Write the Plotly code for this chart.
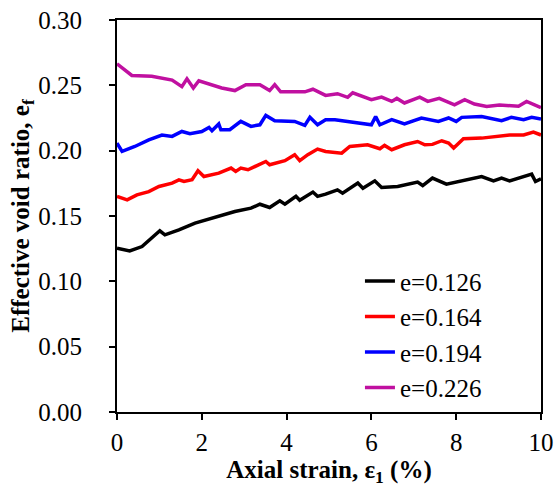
import plotly.graph_objects as go

# e = 0.126 (black)
x_126 = [0, 0.3, 0.59, 0.82, 1.01, 1.13, 1.46, 1.84, 2.4, 2.78, 3.16, 3.37, 3.6, 3.84, 3.96, 4.22, 4.31, 4.62, 4.73, 4.92,
         5.2, 5.32, 5.68, 5.8, 6.08, 6.24, 6.62, 7.09, 7.21, 7.44, 7.77, 8.13, 8.6, 8.88, 9.07, 9.26, 9.54, 9.78, 9.87, 10.0]
y_126 = [0.1254, 0.1233, 0.1266, 0.133, 0.1387, 0.1356, 0.1394, 0.1445, 0.1496, 0.1534, 0.156, 0.159, 0.1565, 0.1616, 0.159, 0.165, 0.162, 0.1683, 0.165, 0.1667,
         0.170, 0.1675, 0.1752, 0.1713, 0.1769, 0.1718, 0.1726, 0.1759, 0.1733, 0.179, 0.1744, 0.1769, 0.1802, 0.1769, 0.179, 0.1769, 0.1795, 0.182, 0.1764, 0.1785]

# e = 0.164 (red)
x_164 = [0, 0.24, 0.47, 0.75, 0.99, 1.3, 1.46, 1.58, 1.77, 1.91, 2.05, 2.4, 2.69, 2.8, 2.92, 3.09, 3.51, 3.6, 3.96, 4.19, 4.31, 4.5, 4.73, 4.92,
         5.3, 5.49, 5.91, 6.2, 6.31, 6.48, 6.78, 7.09, 7.26, 7.44, 7.66, 7.82, 7.94, 8.17, 8.6, 9.0, 9.26, 9.59, 9.82, 10.0]
y_164 = [0.165, 0.1624, 0.1662, 0.1687, 0.1726, 0.1752, 0.1777, 0.1764, 0.1777, 0.1846, 0.1802, 0.1828, 0.1867, 0.1841, 0.1867, 0.1854, 0.1917, 0.1892, 0.1923, 0.1969, 0.1923, 0.1969, 0.2012, 0.1994,
         0.1981, 0.2032, 0.2045, 0.2015, 0.204, 0.2007, 0.2045, 0.207, 0.2045, 0.2048, 0.2076, 0.2058, 0.202, 0.2091, 0.2096, 0.2109, 0.212, 0.212, 0.2142, 0.212]

# e = 0.194 (blue)
x_194 = [0, 0.12, 0.42, 0.75, 1.06, 1.3, 1.53, 1.72, 2.0, 2.17, 2.24, 2.4, 2.45, 2.66, 2.92, 3.16, 3.37, 3.51, 3.72, 4.19, 4.43, 4.55, 4.73, 4.92,
         5.14, 5.68, 6.0, 6.1, 6.2, 6.48, 6.78, 7.18, 7.44, 7.58, 7.82, 8.0, 8.13, 8.6, 9.07, 9.3, 9.59, 9.78, 10.0]
y_194 = [0.2058, 0.1994, 0.2032, 0.2083, 0.212, 0.2109, 0.2147, 0.213, 0.2147, 0.2178, 0.2152, 0.2204, 0.216, 0.216, 0.2224, 0.2186, 0.2198, 0.227, 0.2229, 0.2224, 0.2193, 0.2255, 0.2198, 0.2237,
         0.2237, 0.221, 0.2198, 0.2262, 0.2198, 0.2237, 0.2204, 0.225, 0.2237, 0.2224, 0.225, 0.2224, 0.2255, 0.2262, 0.2229, 0.2255, 0.2237, 0.2255, 0.2242]

# e = 0.226 (purple)
x_226 = [0, 0.35, 0.82, 1.3, 1.53, 1.65, 1.8, 1.93, 2.47, 2.78, 3.04, 3.37, 3.6, 3.72, 3.86, 4.43, 4.62, 4.92,
         5.2, 5.44, 5.56, 6.0, 6.24, 6.48, 6.6, 6.78, 7.14, 7.33, 7.6, 7.96, 8.2, 8.43, 8.72, 9.02, 9.47, 9.66, 10.0]
y_226 = [0.2665, 0.2576, 0.257, 0.254, 0.249, 0.255, 0.248, 0.2535, 0.248, 0.246, 0.2505, 0.2505, 0.246, 0.2505, 0.245, 0.245, 0.247, 0.2423,
         0.2436, 0.2408, 0.2443, 0.239, 0.241, 0.2377, 0.240, 0.2365, 0.241, 0.2377, 0.240, 0.235, 0.239, 0.2357, 0.2339, 0.235, 0.234, 0.2377, 0.233]

series = [
    ("e=0.126", x_126, y_126, "#000000"),
    ("e=0.164", x_164, y_164, "#FF0000"),
    ("e=0.194", x_194, y_194, "#0000FF"),
    ("e=0.226", x_226, y_226, "#C010A0"),
]

x_ticks = [0, 2, 4, 6, 8, 10]
y_ticks = [0.00, 0.05, 0.10, 0.15, 0.20, 0.25, 0.30]

FONT = "Liberation Serif, Times New Roman, serif"
FS = 25

fig = go.Figure()
for name, xs, ys, col in series:
    fig.add_trace(go.Scatter(x=xs, y=ys, mode="lines", name=name,
                             line=dict(color=col, width=3.5)))

fig.update_layout(
    width=557, height=496,
    margin=dict(l=117, r=16, t=20, b=84, autoexpand=False),
    paper_bgcolor="white", plot_bgcolor="white",
    font=dict(family=FONT, size=FS, color="black"),
    showlegend=True,
    legend=dict(x=0.573, y=0.392, xanchor="left", yanchor="top",
                bgcolor="rgba(0,0,0,0)", tracegroupgap=0,
                font=dict(family=FONT, size=FS, color="black")),
)
fig.update_xaxes(range=[0, 10], tickvals=x_ticks, ticktext=[str(v) for v in x_ticks],
                 showline=True, linecolor="black", linewidth=2, mirror=True,
                 ticks="outside", ticklen=6, tickwidth=2, tickcolor="black",
                 showgrid=False, zeroline=False, ticklabelstandoff=1, automargin=False,
                 tickfont=dict(family=FONT, size=FS),
                 title=dict(text="<b>Axial strain, ε<sub>1</sub> (%)</b>", font=dict(size=FS), standoff=5))
fig.update_yaxes(range=[0, 0.30], tickvals=y_ticks, ticktext=[f"{v:.2f}" for v in y_ticks],
                 showline=True, linecolor="black", linewidth=2, mirror=True,
                 ticks="outside", ticklen=6, tickwidth=2, tickcolor="black",
                 showgrid=False, zeroline=False, ticklabelstandoff=22, automargin=False,
                 tickfont=dict(family=FONT, size=FS),
                 title=dict(text="<b>Effective void ratio, e<sub>f</sub></b>", font=dict(size=FS), standoff=0))

fig.write_html("out.html")
